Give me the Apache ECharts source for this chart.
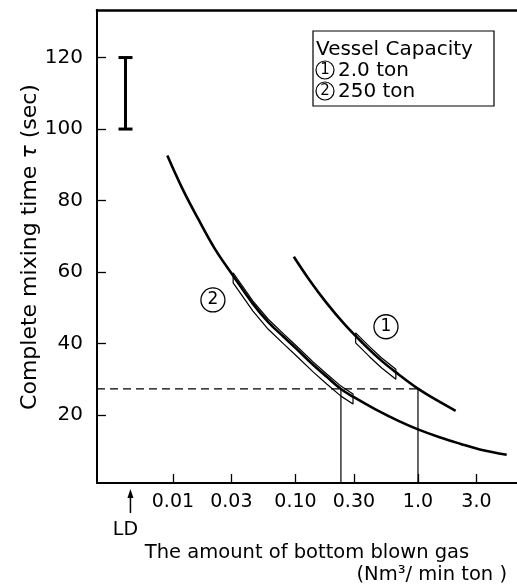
<!DOCTYPE html>
<html><head><meta charset="utf-8">
<script src="https://cdn.jsdelivr.net/npm/echarts@6/dist/echarts.min.js"></script>
<style>html,body{margin:0;padding:0;background:#fff}#c{width:517px;height:586px}</style>
</head><body><div id="c"></div><script>
// Complete mixing time vs. bottom blown gas rate, two vessel capacities
const curve1Q   = [0.097, 0.13, 0.18, 0.25, 0.35, 0.5, 0.7, 1.0, 1.4, 2.03];
const curve1Tau = [64.3, 57.8, 51.3, 45.5, 40.3, 35.3, 31.3, 27.4, 24.3, 21.2];
const curve2Q   = [0.009, 0.012, 0.016, 0.022, 0.031, 0.045, 0.06, 0.08, 0.1, 0.14, 0.18, 0.235, 0.3, 0.45, 0.7, 1.0, 1.5, 2.2, 3.2, 5.3];
const curve2Tau = [92.6, 83.2, 75.0, 66.5, 59.0, 51.1, 46.0, 41.9, 38.8, 34.0, 30.7, 27.3, 25.0, 21.6, 18.3, 16.0, 13.8, 12.0, 10.4, 8.9];

// scatter bands of measured values around each curve
const band1Q     = [0.31, 0.4, 0.5, 0.66];
const band1Upper = [43.0, 39.2, 36.1, 32.8];
const band1Lower = [40.2, 36.4, 33.3, 30.0];
const band2Q     = [0.031, 0.045, 0.06, 0.08, 0.1, 0.14, 0.18, 0.235, 0.295];
const band2Upper = [59.8, 51.9, 46.8, 42.7, 39.6, 34.8, 31.5, 28.1, 25.9];
const band2Lower = [57.0, 49.1, 44.0, 39.9, 36.8, 32.0, 28.7, 25.3, 23.1];

// reference: equal mixing time of 27 s
const tauRef = 27.3;
const qRef = [0.235, 1.0];

// top-blown (LD) converter
const ldQ = 0.0045;
const ldBarQ = 0.0041;
const ldRange = [100, 120];

// curve tags
const tagQ   = [0.0212, 0.548];
const tagTau = [52.2, 44.7];
const tagText = ['2', '1'];

const xTickQ = [0.01, 0.03, 0.1, 0.3, 1, 3];
const xTickLabels = ['0.01', '0.03', '0.10', '0.30', '1.0', '3.0'];
const yTicks = [20, 40, 60, 80, 100, 120];
const xRangeQ = [0.0024, 6.43];
const yRange = [1, 133.3];

const FONT = 'DejaVu Sans';
const lg = Math.log10;
const pts = (qs, ts) => qs.map((q, i) => [lg(q), ts[i]]);
const ring = (qs, up, lo) => {
  const a = pts(qs, up);
  const b = pts(qs, lo).reverse();
  return a.concat(b, [a[0]]);
};

const chart = echarts.init(document.getElementById('c'), null, {renderer: 'canvas'});

const xTickVals = xTickQ.map(lg);
const xLabelFor = v => {
  let best = 0;
  xTickVals.forEach((t, i) => { if (Math.abs(t - v) < Math.abs(xTickVals[best] - v)) best = i; });
  return xTickLabels[best];
};

const circ = (cx, cy, d) => ([
  {type: 'circle', shape: {cx: cx, cy: cy, r: 9}, style: {fill: '#fff', stroke: '#000', lineWidth: 1.2}},
  {type: 'text', x: cx, y: cy + 0.5, style: {text: d, font: '15px "' + FONT + '"', fill: '#000', align: 'center', verticalAlign: 'middle'}}
]);

chart.setOption({
  animation: false,
  backgroundColor: '#fff',
  grid: {left: 97, right: 0, top: 10, bottom: 103},
  xAxis: [{
    type: 'value', min: lg(xRangeQ[0]), max: lg(xRangeQ[1]),
    axisLine: {show: true, onZero: false, lineStyle: {color: '#000', width: 2}},
    axisTick: {show: true, inside: true, length: 9, customValues: xTickVals, lineStyle: {color: '#000', width: 1.3}},
    axisLabel: {customValues: xTickVals, formatter: xLabelFor, fontFamily: FONT, fontSize: 19, color: '#000', margin: 10},
    splitLine: {show: false}
  }, {
    type: 'value', position: 'top', min: lg(xRangeQ[0]), max: lg(xRangeQ[1]),
    axisLine: {show: true, onZero: false, lineStyle: {color: '#000', width: 2.5}},
    axisTick: {show: false}, axisLabel: {show: false}, splitLine: {show: false}
  }],
  yAxis: {
    type: 'value', min: yRange[0], max: yRange[1],
    axisLine: {show: true, onZero: false, lineStyle: {color: '#000', width: 2}},
    axisTick: {show: true, inside: true, length: 9, customValues: yTicks, lineStyle: {color: '#000', width: 1.3}},
    axisLabel: {customValues: yTicks, fontFamily: FONT, fontSize: 20, color: '#000', margin: 14},
    splitLine: {show: false}
  },
  series: [
    {type: 'line', data: ring(band2Q, band2Upper, band2Lower), symbol: 'none', lineStyle: {color: '#000', width: 1.2}, z: 2},
    {type: 'line', data: ring(band1Q, band1Upper, band1Lower), symbol: 'none', lineStyle: {color: '#000', width: 1.2}, z: 2},
    {type: 'line', data: pts(curve2Q, curve2Tau), smooth: 0.4, symbol: 'none', lineStyle: {color: '#000', width: 2.6}, z: 3},
    {type: 'line', data: pts(curve1Q, curve1Tau), smooth: 0.4, symbol: 'none', lineStyle: {color: '#000', width: 2.6}, z: 3},
    {type: 'line', data: [[lg(xRangeQ[0]), tauRef], [lg(qRef[1]), tauRef]], symbol: 'none', lineStyle: {color: '#000', width: 1.3, type: [8, 5]}, z: 2},
    {type: 'line', data: [[lg(qRef[0]), tauRef], [lg(qRef[0]), yRange[0]]], symbol: 'none', lineStyle: {color: '#000', width: 1.2}, z: 2},
    {type: 'line', data: [[lg(qRef[1]), tauRef], [lg(qRef[1]), yRange[0]]], symbol: 'none', lineStyle: {color: '#000', width: 1.2}, z: 2},
    {
      type: 'scatter', data: tagQ.map((q, i) => [lg(q), tagTau[i], tagText[i]]),
      symbol: 'circle', symbolSize: 24,
      itemStyle: {color: '#fff', borderColor: '#000', borderWidth: 1.3, opacity: 1},
      label: {show: true, position: 'inside', formatter: p => p.value[2], fontFamily: FONT, fontSize: 17, color: '#000'},
      z: 4
    },
    {
      // range bar of mixing time for the top-blown converter
      type: 'custom', data: [[lg(ldBarQ), ldRange[0], ldRange[1]]],
      renderItem: (params, api) => {
        const lo = api.coord([api.value(0), api.value(1)]);
        const hi = api.coord([api.value(0), api.value(2)]);
        const s = {stroke: '#000', lineWidth: 3};
        return {type: 'group', children: [
          {type: 'line', shape: {x1: lo[0], y1: lo[1], x2: hi[0], y2: hi[1]}, style: s},
          {type: 'line', shape: {x1: lo[0] - 7, y1: lo[1], x2: lo[0] + 7, y2: lo[1]}, style: s},
          {type: 'line', shape: {x1: hi[0] - 7, y1: hi[1], x2: hi[0] + 7, y2: hi[1]}, style: s}
        ]};
      }, z: 3
    },
    {
      // LD marker under the gas-rate axis
      type: 'custom', data: [[lg(ldQ), yRange[0]]], clip: false,
      renderItem: (params, api) => {
        const p = api.coord([api.value(0), api.value(1)]);
        return {type: 'group', children: [
          {type: 'line', shape: {x1: p[0], y1: p[1] + 12, x2: p[0], y2: p[1] + 30}, style: {stroke: '#000', lineWidth: 1.5}},
          {type: 'polygon', shape: {points: [[p[0], p[1] + 6], [p[0] - 3, p[1] + 15], [p[0] + 3, p[1] + 15]]}, style: {fill: '#000'}},
          {type: 'text', x: p[0] - 5, y: p[1] + 47, style: {text: 'LD', font: '19px "' + FONT + '"', fill: '#000', align: 'center', verticalAlign: 'middle'}}
        ]};
      }, z: 5
    }
  ],
  graphic: [
    {
      type: 'text', x: 30, y: 247, rotation: Math.PI / 2,
      style: {
        text: '{a|Complete mixing time }{t|τ}{a| (sec)}',
        align: 'center', verticalAlign: 'middle',
        rich: {
          a: {fontFamily: FONT, fontSize: 22, color: '#000'},
          t: {fontFamily: FONT, fontSize: 22, fontStyle: 'italic', color: '#000'}
        }
      }
    },
    {type: 'text', x: 307, y: 553, style: {text: 'The amount of bottom blown gas', font: '19.5px "' + FONT + '"', fill: '#000', align: 'center', verticalAlign: 'middle'}},
    {type: 'text', x: 507, y: 575, style: {text: '(Nm³/ min ton )', font: '19.5px "' + FONT + '"', fill: '#000', align: 'right', verticalAlign: 'middle'}},
    {
      type: 'group', z: 10,
      children: [
        {type: 'rect', shape: {x: 313, y: 31, width: 181, height: 75}, style: {fill: '#fff', stroke: '#000', lineWidth: 1.2}},
        {type: 'text', x: 316, y: 50, style: {text: 'Vessel Capacity', font: '20px "' + FONT + '"', fill: '#000', verticalAlign: 'middle'}},
        ...circ(325, 70, '1'),
        {type: 'text', x: 338, y: 71, style: {text: '2.0 ton', font: '20px "' + FONT + '"', fill: '#000', verticalAlign: 'middle'}},
        ...circ(325, 91, '2'),
        {type: 'text', x: 338, y: 92, style: {text: '250 ton', font: '20px "' + FONT + '"', fill: '#000', verticalAlign: 'middle'}}
      ]
    }
  ]
});
</script></body></html>
